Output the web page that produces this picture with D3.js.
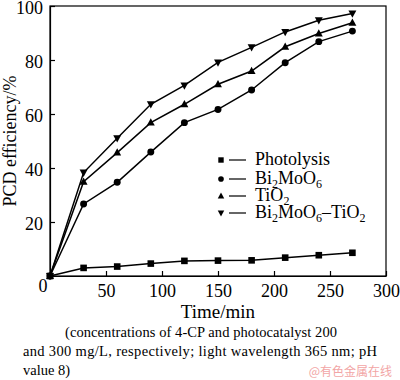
<!DOCTYPE html>
<html><head><meta charset="utf-8">
<script src="https://cdn.jsdelivr.net/npm/d3@7"></script>
<style>body{margin:0;background:#fff}svg{display:block}</style>
</head><body>
<svg id="c" width="400" height="380"></svg>
<script>
const times = [0,30,60,90,120,150,180,210,240,270];
const photolysis = [0,3.0,3.5,4.6,5.6,5.7,5.8,6.8,7.7,8.6];
const bi2moo6 = [0,26.7,34.7,45.9,56.8,61.7,68.9,79.0,86.8,90.7];
const tio2 = [0,34.9,45.7,56.8,63.6,71.0,75.9,84.9,89.8,93.8];
const composite = [0,38.3,51.0,63.6,70.6,79.1,84.7,90.4,94.7,97.2];
const xTicks = [50,100,150,200,250,300];
const yTicks = [20,40,60,80,100];
const seriesNames = [["Photolysis"],["Bi","2","MoO","6"],["TiO","2"],["Bi","2","MoO","6","\u2013TiO","2"]];
const seriesSymbols = ["square","circle","up","down"];

const SERIF = '"Liberation Serif"';
const svg = d3.select("#c");
const x = d3.scaleLinear().domain([0,300]).range([50,386]);
const y = d3.scaleLinear().domain([0,100]).range([276,6]);

svg.append("rect").attr("x",50).attr("y",6).attr("width",336).attr("height",270)
  .attr("fill","none").attr("stroke","#000").attr("stroke-width",1.2);

const xa = svg.append("g").attr("transform","translate(0,276)")
  .call(d3.axisBottom(x).tickValues(xTicks).tickSizeInner(-5).tickSizeOuter(0).tickPadding(8));
const ya = svg.append("g").attr("transform","translate(50,0)")
  .call(d3.axisLeft(y).tickValues(yTicks).tickSizeInner(-5).tickSizeOuter(0).tickPadding(7));
[xa,ya].forEach(g=>{
  g.select(".domain").attr("stroke","#000").attr("stroke-width",1.2);
  g.selectAll("line").attr("stroke","#000").attr("stroke-width",1.2);
  g.selectAll("text").style("font-family",SERIF).style("font-size","18px").attr("fill","#000");
});
ya.selectAll("text").attr("dy","0.4em");
svg.append("text").attr("x",43).attr("y",292).attr("text-anchor","middle")
  .style("font-family",SERIF).style("font-size","18px").text("0");

svg.append("text").attr("x",218).attr("y",318).attr("text-anchor","middle")
  .style("font-family",SERIF).style("font-size","19px").text("Time/min");
svg.append("text").attr("transform","translate(16,141) rotate(-90)").attr("text-anchor","middle")
  .style("font-family",SERIF).style("font-size","18px").text("PCD efficiency/%");

const data = [photolysis,bi2moo6,tio2,composite];
const line = d3.line().x((d,i)=>x(times[i])).y(d=>y(d));

function marker(g, type, cx, cy, s){
  if(type==="square") g.append("rect").attr("x",cx-s).attr("y",cy-s).attr("width",2*s).attr("height",2*s).attr("fill","#000");
  else if(type==="circle") g.append("circle").attr("cx",cx).attr("cy",cy).attr("r",s*1.05).attr("fill","#000");
  else if(type==="up") g.append("path").attr("d",`M${cx},${cy-s*1.3}L${cx+s*1.2},${cy+s*0.9}L${cx-s*1.2},${cy+s*0.9}Z`).attr("fill","#000");
  else g.append("path").attr("d",`M${cx},${cy+s*1.3}L${cx+s*1.2},${cy-s*0.9}L${cx-s*1.2},${cy-s*0.9}Z`).attr("fill","#000");
}

data.forEach((vals,k)=>{
  svg.append("path").datum(vals).attr("d",line).attr("fill","none")
    .attr("stroke","#000").attr("stroke-width",1.5);
  const g = svg.append("g");
  vals.forEach((v,i)=>marker(g, seriesSymbols[k], x(times[i]), y(v), 3.3));
});

const legY = [160,179,196,213];
const lg = svg.append("g");
seriesNames.forEach((parts,k)=>{
  marker(lg, seriesSymbols[k], 221, legY[k], 2.7);
  lg.append("line").attr("x1",229).attr("x2",246).attr("y1",legY[k]).attr("y2",legY[k])
    .attr("stroke","#000").attr("stroke-width",1.2);
  const t = lg.append("text").attr("x",255).attr("y",legY[k]+5)
    .style("font-family",SERIF).style("font-size","18px");
  parts.forEach((p,i)=>{
    const sub = i%2===1;
    const s = t.append("tspan").text(p);
    if(sub) s.attr("dy",4).style("font-size","12px");
    else if(i>0) s.attr("dy",-4);
  });
});

const capStyle = s => s.style("font-family",SERIF).style("font-size","14.5px").attr("fill","#000");
svg.append("text").call(capStyle).attr("x",65).attr("y",337).attr("textLength",272).attr("lengthAdjust","spacing")
  .text("(concentrations of 4-CP and photocatalyst 200");
svg.append("text").call(capStyle).attr("x",23).attr("y",356).attr("textLength",354).attr("lengthAdjust","spacing")
  .text("and 300 mg/L, respectively; light wavelength 365 nm; pH");
svg.append("text").call(capStyle).attr("x",23).attr("y",375).text("value 8)");
svg.append("text").attr("x",392).attr("y",376).attr("text-anchor","end")
  .style("font-family",'"Noto Sans CJK SC"').style("font-size","12px")
  .attr("fill","#f2a5a5").text("@有色金属在线");
</script>
</body></html>
